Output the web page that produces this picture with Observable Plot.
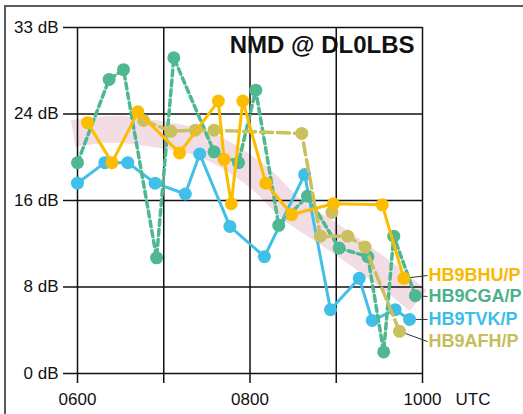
<!DOCTYPE html>
<html>
<head>
<meta charset="utf-8">
<script src="https://cdn.jsdelivr.net/npm/d3@7"></script>
<script src="https://cdn.jsdelivr.net/npm/@observablehq/plot@0.6"></script>
<style>
  html, body { margin: 0; padding: 0; background: #fff; overflow: hidden; }
  #wrap { position: relative; width: 523px; height: 414px; }
  #border { position: absolute; left: 4px; top: 5px; width: 700px; height: 700px;
            border-top: 2px solid #5a5a5a; border-left: 2px solid #5a5a5a; }
  #chart { position: absolute; left: 0; top: 0; }
</style>
</head>
<body>
<div id="wrap"><div id="border"></div><div id="chart"></div></div>
<script>
// ---- data ----
const yTicks = [0, 8, 16, 24, 32];
const yTickLabels = ["0 dB", "8 dB", "16 dB", "24 dB", "33 dB"];
const xTicks = [6, 7, 8, 9, 10];
const xTickLabels = ["0600", "", "0800", "", "1000"];
const xUnit = "UTC";
const title = "NMD @ DL0LBS";

const bhuTimes  = ["06:07","06:24","06:42","07:11","07:38","07:42","07:47","07:55","08:11","08:29","08:58","09:32","09:47"];
const bhuValues = [23.2, 19.5, 24.2, 20.4, 25.2, 19.8, 15.7, 25.2, 17.6, 14.7, 15.7, 15.6, 8.8];

const cgaTimes  = ["06:00","06:22","06:32","06:55","07:07","07:35","07:52","08:04","08:20","08:40","09:02","09:22","09:33","09:40","09:55"];
const cgaValues = [19.5, 27.2, 28.1, 10.7, 29.2, 20.5, 19.5, 26.2, 13.7, 16.4, 11.6, 10.8, 2.0, 12.7, 7.2];

const tvkTimes  = ["06:00","06:19","06:35","06:54","07:15","07:25","07:46","08:10","08:38","08:56","09:16","09:25","09:41","09:51"];
const tvkValues = [17.6, 19.5, 19.5, 17.6, 16.6, 20.3, 13.6, 10.8, 18.4, 5.9, 8.8, 4.9, 5.9, 5.0];

const afhTimes  = ["06:46","07:05","07:22","07:35","08:36","08:49","09:08","09:20","09:44"];
const afhValues = [23.4, 22.4, 22.5, 22.5, 22.2, 12.7, 12.7, 11.7, 3.9];
const afhLooseTimes  = ["08:57"];
const afhLooseValues = [14.9];

const trendTimes  = ["05:57","06:25","06:58","07:26","07:46","08:09","08:28","08:56","09:31","09:57"];
const trendValues = [22.2, 22.6, 22.1, 21.3, 20.0, 17.8, 15.3, 12.8, 9.5, 6.75];

const labelNames  = ["HB9BHU/P", "HB9CGA/P", "HB9TVK/P", "HB9AFH/P"];
const labelLevels = [9.06, 7.12, 5.0, 2.96];

// ---- helpers ----
const toH = s => { const [h, m] = s.split(":").map(Number); return h + m / 60; };
const rows = (times, values) => times.map((t, i) => ({x: toH(t), y: values[i]}));

const W = 523, H = 414, mL = 77, mR = 101, mT = 27, mB = 41;
const pxPerHour = (W - mL - mR) / (xTicks[xTicks.length - 1] - xTicks[0]);

const colors = {bhu: "#fcbd00", cga: "#4fb891", tvk: "#42bfe8", afh: "#cbc060"};
const labelColors = ["#f9b900", "#4cb189", "#3dbde9", "#c8bd5a"];

const bhu = rows(bhuTimes, bhuValues);
const cga = rows(cgaTimes, cgaValues);
const tvk = rows(tvkTimes, tvkValues);
const afh = rows(afhTimes, afhValues);
const afhLoose = rows(afhLooseTimes, afhLooseValues);
const trend = rows(trendTimes, trendValues);

const lastPts = [bhu, cga, tvk, afh].map(s => s[s.length - 1]);
const labels = labelNames.map((n, i) => ({name: n, y: labelLevels[i], color: labelColors[i],
  x0: lastPts[i].x, y0: lastPts[i].y}));

const font = "'Liberation Sans', Arial, Helvetica, sans-serif";

function series(data, color, dash, width) {
  return [
    Plot.line(data, {x: "x", y: "y", stroke: color, strokeWidth: width, strokeDasharray: dash, strokeLinejoin: "round"}),
    Plot.dot(data, {x: "x", y: "y", r: 6.5, fill: color, stroke: "none"})
  ];
}

const plot = Plot.plot({
  width: W, height: H,
  marginLeft: mL, marginRight: mR, marginTop: mT, marginBottom: mB,
  style: {fontFamily: font, fontSize: "17px", color: "#111", background: "transparent", overflow: "visible"},
  x: {domain: [6, 10]},
  y: {domain: [0, 32]},
  marks: [
    Plot.line(trend, {x: "x", y: "y", stroke: "#f3dde5", strokeWidth: 27, curve: "catmull-rom", strokeLinecap: "butt"}),
    Plot.ruleY(yTicks, {stroke: "#111", strokeWidth: 1.5}),
    Plot.ruleX(xTicks, {stroke: "#111", strokeWidth: 1.5}),
    Plot.axisY({ticks: yTicks, tickFormat: d => yTickLabels[yTicks.indexOf(d)], tickSize: 14, tickPadding: 5,
      strokeWidth: 1.5, label: null, fontSize: 17}),
    Plot.axisX({ticks: xTicks, tickFormat: d => xTickLabels[xTicks.indexOf(d)], tickSize: 10, tickPadding: 9,
      strokeWidth: 1.5, label: null, fontSize: 17}),
    Plot.text([xUnit], {x: 10, y: 0, text: d => d, dx: 33, dy: 19, textAnchor: "start", lineAnchor: "top", fontSize: 17}),
    Plot.link(labels, {x1: "x0", y1: "y0", x2: () => 10 + 5 / pxPerHour, y2: "y", stroke: "#333", strokeWidth: 1}),
    ...series(tvk, colors.tvk, null, 3),
    ...series(cga, colors.cga, "6,4", 3.5),
    ...series(afh, colors.afh, "12,5", 3.5),
    Plot.dot(afhLoose, {x: "x", y: "y", r: 6.5, fill: colors.afh}),
    ...series(bhu, colors.bhu, null, 3),
    Plot.text(labels, {x: 10, y: "y", text: "name", fill: "color", dx: 6, textAnchor: "start",
      fontWeight: "bold", fontSize: 18}),
    Plot.text([title], {frameAnchor: "top-right", text: d => d, dx: -8, dy: 8, lineAnchor: "top",
      fontWeight: "bold", fontSize: 24, fill: "#111"})
  ]
});
document.getElementById("chart").appendChild(plot);
</script>
</body>
</html>
